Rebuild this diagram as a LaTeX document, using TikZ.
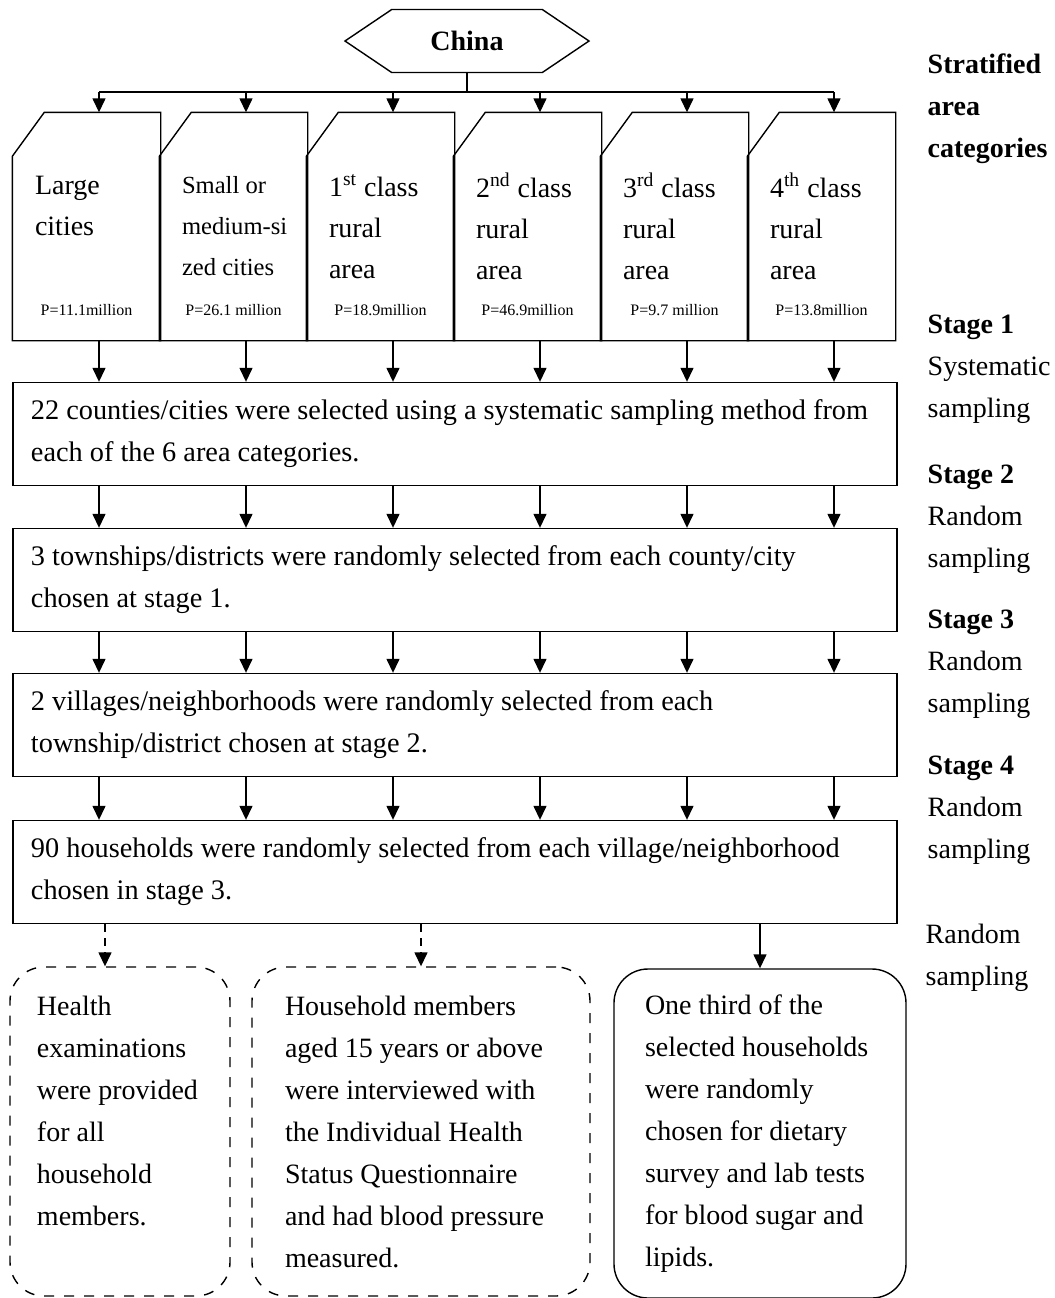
\documentclass[tikz,border=0pt]{standalone}
\usepackage{fontspec}
\setmainfont{Liberation Serif}
\usetikzlibrary{shapes.symbols, arrows.meta}
\tikzset{every node/.style={font=\fontsize{14}{21}\selectfont},
         arr/.style={-{Triangle[width=6.5pt,length=7pt]}},
         arrd/.style={arr, dash pattern=on 4pt off 3pt},
         hexa/.style={draw, signal, signal to=west and east, signal pointer angle=68,
                      minimum width=122pt, minimum height=31.5pt, inner sep=0pt,
                      font=\fontsize{14}{21}\selectfont\bfseries},
         card/.style={minimum width=73.5pt, minimum height=113.5pt, inner xsep=11pt,
                      inner ysep=0pt, text width=51.5pt, align=flush left,
                      font=\fontsize{14}{20.5}\selectfont},
         plabel/.style={anchor=south, inner sep=0pt, yshift=12pt,
                        font=\fontsize{8}{9}\selectfont},
         stage/.style={draw, minimum width=442pt, minimum height=51.5pt,
                       inner xsep=9pt, text width=424pt, align=flush left,
                       font=\fontsize{14.15}{21}\selectfont},
         result/.style={draw, rounded corners=17pt, minimum height=164.5pt, align=flush left},
         sidenote/.style={anchor=west, align=flush left, inner sep=0pt},
        }

\begin{document}
\begin{tikzpicture}[x=0.5pt, y=-0.5pt, line width=0.7pt]
        \useasboundingbox (0,0) rectangle (1055,1298);

        \node[hexa](china)at(467,41){China};

        % area categories
        \node[card, label={[plabel]south:P=11.1million}](c1)at(86.5,226.5){Large\\cities\\ \mbox{}};
        \node[card, font=\fontsize{12.3}{20.5}\selectfont, label={[plabel]south:P=26.1 million}](c2)at(233.5,226.5){Small or\\\mbox{medium-si}\\zed cities};
        \node[card, label={[plabel]south:P=18.9million}](c3)at(380.5,226.5){1\textsuperscript{st} class\\rural\\area};
        \node[card, label={[plabel]south:P=46.9million}](c4)at(527.5,226.5){2\textsuperscript{nd} class\\rural\\area};
        \node[card, label={[plabel]south:P=9.7 million}](c5)at(674.5,226.5){3\textsuperscript{rd} class\\rural\\area};
        \node[card, label={[plabel]south:P=13.8million}](c6)at(821.5,226.5){4\textsuperscript{th} class\\rural\\area};
        \foreach \i in {1,...,6}
            \draw (c\i.south west) -- ([yshift=-22pt]c\i.north west) -- ([xshift=16pt]c\i.north west)
                  -- (c\i.north east) -- (c\i.south east) -- cycle;

        % sampling stages
        \node[stage](s1)at(455,434){\mbox{22 counties/cities were selected using a systematic sampling method from}\\each of the 6 area categories.};
        \node[stage](s2)at(455,580){\mbox{3 townships/districts were randomly selected from each county/city}\\chosen at stage 1.};
        \node[stage](s3)at(455,725){\mbox{2 villages/neighborhoods were randomly selected from each}\\township/district chosen at stage 2.};
        \node[stage](s4)at(455,872){\mbox{90 households were randomly selected from each village/neighborhood}\\chosen in stage 3.};

        % surveys
        \node[result, dash pattern=on 5pt off 5pt, minimum width=110pt, inner xsep=13.5pt, text width=83pt](b1)at(120,1131.5){Health\\examinations\\were provided\\for all\\household\\members.\\ \mbox{}};
        \node[result, dash pattern=on 5pt off 5pt, minimum width=169pt, inner xsep=16.5pt, text width=136pt](b2)at(421,1131.5){Household members\\aged 15 years or above\\were interviewed with\\the Individual Health\\Status Questionnaire\\and had blood pressure\\measured.};
        \node[result, minimum width=146pt, inner xsep=15.5pt, text width=115pt](b3)at(760,1133.5){One third of the\\selected households\\were randomly\\chosen for dietary\\survey and lab tests\\for blood sugar and\\lipids.};

        % side notes
        \node[sidenote](strat)at(927,109){\textbf{Stratified}\\\textbf{area}\\\textbf{categories}};
        \node[sidenote](n1)at(927,369.5){\textbf{Stage 1}\\Systematic\\sampling};
        \node[sidenote](n2)at(927,519.5){\textbf{Stage 2}\\Random\\sampling};
        \node[sidenote](n3)at(927,664.5){\textbf{Stage 3}\\Random\\sampling};
        \node[sidenote](n4)at(927,810){\textbf{Stage 4}\\Random\\sampling};
        \node[sidenote](n5)at(925,958){Random\\sampling};

        % connectors
        \foreach \i [evaluate=\i as \x using 147*\i-48] in {1,...,6}
            \coordinate (k\i) at (\x,92);
        \draw (china.south) -- (china.south |- k1);
        \draw (k1) -- (k6);
        \foreach \i in {1,...,6}{
            \draw[arr] (k\i) -- (k\i |- c\i.north);
            \draw[arr] (k\i |- c\i.south) -- (k\i |- s1.north);
            \draw[arr] (k\i |- s1.south) -- (k\i |- s2.north);
            \draw[arr] (k\i |- s2.south) -- (k\i |- s3.north);
            \draw[arr] (k\i |- s3.south) -- (k\i |- s4.north);
        }
        \coordinate (d1) at ([xshift=-7.5pt]b1.north);
        \draw[arrd] (s4.south -| d1) -- (d1);
        \draw[arrd] (s4.south -| b2.north) -- (b2.north);
        \draw[arr] (s4.south -| b3.north) -- (b3.north);
    \end{tikzpicture}
\end{document}
